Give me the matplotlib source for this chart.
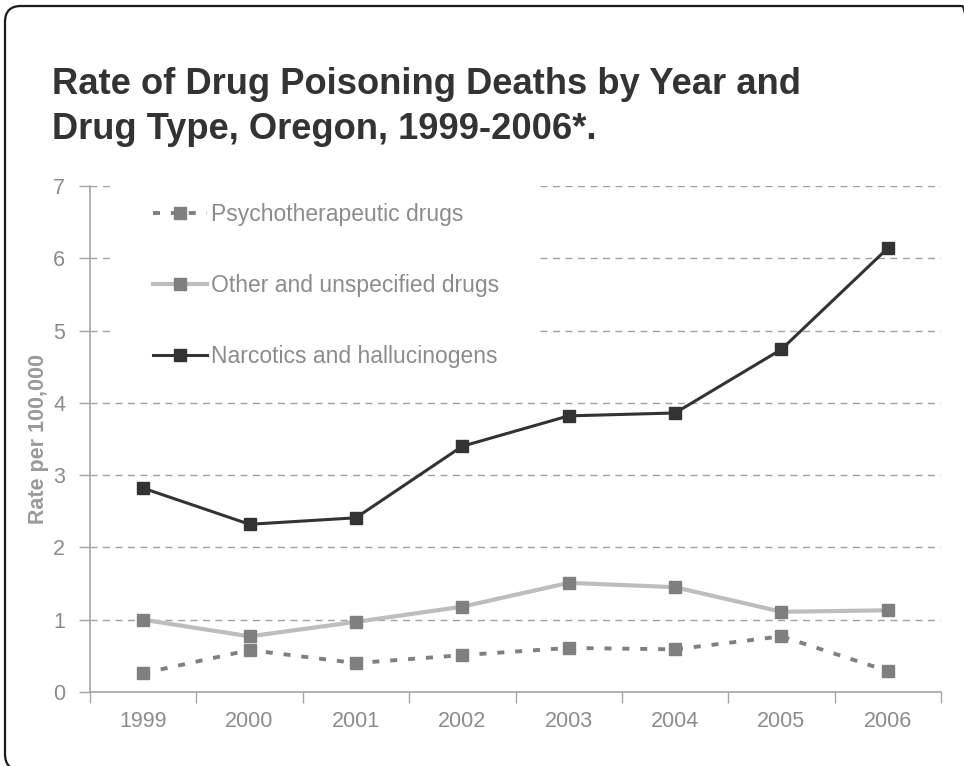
import matplotlib
matplotlib.use("Agg")
import matplotlib.pyplot as plt
from matplotlib.patches import FancyBboxPatch, Rectangle
from matplotlib.transforms import IdentityTransform

years = ["1999", "2000", "2001", "2002", "2003", "2004", "2005", "2006"]
psycho = [0.26, 0.58, 0.40, 0.51, 0.61, 0.59, 0.77, 0.29]
other = [1.00, 0.77, 0.97, 1.18, 1.51, 1.45, 1.11, 1.13]
narcotics = [2.82, 2.32, 2.41, 3.40, 3.82, 3.86, 4.74, 6.14]
series_labels = ["Psychotherapeutic drugs", "Other and unspecified drugs", "Narcotics and hallucinogens"]
yticks = [0, 1, 2, 3, 4, 5, 6, 7]

plt.rcParams['font.family'] = ['Liberation Sans', 'DejaVu Sans']

W, H = 964, 766
fig = plt.figure(figsize=(W / 100, H / 100), dpi=100)
ax = fig.add_axes([90 / W, (H - 692) / H, (941 - 90) / W, (692 - 186) / H])

# outer rounded frame
frame = FancyBboxPatch((5, -4), 973, 760 + 4, boxstyle="round,pad=0,rounding_size=16",
                       transform=IdentityTransform(), facecolor="none",
                       edgecolor="#1a1a1a", linewidth=1.6)
fig.patches.append(frame)

x = list(range(len(years)))
gray_text = "#8c8c8c"
axis_col = "#a6a6a6"

ax.plot(x, psycho, color="#808080", linewidth=2.8, dashes=(1.8, 2.8),
        marker="s", markersize=8, markerfacecolor="#7f7f7f", markeredgecolor="#7f7f7f",
        label=series_labels[0], zorder=4)
ax.plot(x, other, color="#bdbdbd", linewidth=3.0,
        marker="s", markersize=8, markerfacecolor="#7f7f7f", markeredgecolor="#7f7f7f",
        label=series_labels[1], zorder=4)
ax.plot(x, narcotics, color="#333333", linewidth=2.2,
        marker="s", markersize=8, markerfacecolor="#333333", markeredgecolor="#333333",
        label=series_labels[2], zorder=5)

ax.set_xlim(-0.5, len(years) - 0.5)
ax.set_ylim(0, 7)
ax.set_yticks(yticks)
ax.set_yticklabels([str(v) for v in yticks])
ax.set_xticks(x)
ax.set_xticklabels(years)
ax.set_xticks([i - 0.5 for i in range(len(years) + 1)], minor=True)
ax.tick_params(axis="x", which="major", length=0, pad=14, labelsize=15.5, labelcolor=gray_text)
ax.tick_params(axis="x", which="minor", length=8, width=1, color=axis_col, direction="out")
ax.tick_params(axis="y", which="major", length=8, width=1, color=axis_col, direction="out",
               pad=10, labelsize=15.5, labelcolor=gray_text)

for s in ["top", "right"]:
    ax.spines[s].set_visible(False)
for s in ["left", "bottom"]:
    ax.spines[s].set_color(axis_col)
    ax.spines[s].set_linewidth(1.2)

ax.yaxis.grid(True, color="#a0a0a0", linestyle=(0, (5, 4)), linewidth=1.0)
ax.set_axisbelow(True)

# white legend backdrop hiding the grid
ax.add_patch(Rectangle((0.026, 0.62), 0.497, 0.385, transform=ax.transAxes,
                       facecolor="white", edgecolor="none", zorder=2, clip_on=False))

leg = ax.legend(loc="upper left", bbox_to_anchor=(0.063, 0.985), frameon=False,
                fontsize=16.5, labelcolor=gray_text, handlelength=2.35,
                handletextpad=0.2, labelspacing=2.1, borderaxespad=0)
leg.set_zorder(6)

ax.set_ylabel("Rate per 100,000", fontsize=15.5, fontweight="bold", color="#9a9a9a", labelpad=3)

fig.text(52 / W, 1 - 67 / H, "Rate of Drug Poisoning Deaths by Year and\nDrug Type, Oregon, 1999-2006*.",
         fontsize=26.2, fontweight="bold", color="#333333", va="top", ha="left", linespacing=1.38)

fig.savefig("out.png", dpi=100, facecolor="white")
